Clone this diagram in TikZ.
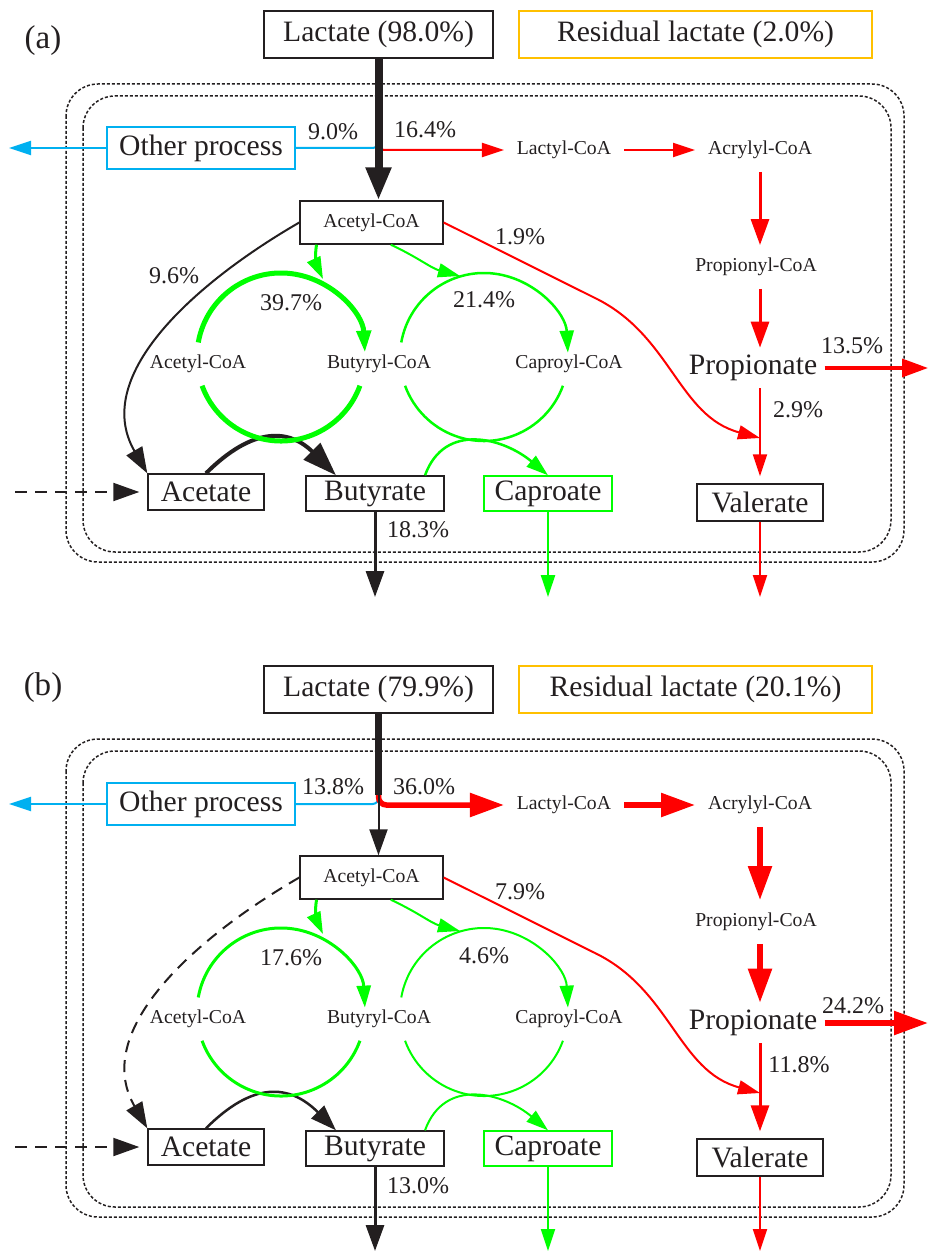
\documentclass[tikz,border=0pt]{standalone}
\usepackage{fontspec}
\setmainfont{Liberation Serif}
\usetikzlibrary{arrows.meta}
\definecolor{ink}{RGB}{35,31,32}
\definecolor{skyline}{RGB}{0,176,240}
\definecolor{amber}{RGB}{255,192,0}
\definecolor{fgreen}{RGB}{0,255,0}
\definecolor{fred}{RGB}{255,0,0}
\begin{document}
\begin{tikzpicture}[x=0.5pt,y=0.5pt,
    pbox/.style={draw=ink,line width=0.7pt,inner sep=0pt,text=ink,font=\fontsize{14.8}{16}\selectfont},
    big/.style={text=ink,inner sep=3.5pt,font=\fontsize{14.8}{16}\selectfont},
    small/.style={text=ink,inner sep=3.5pt,outer sep=3pt,font=\fontsize{9.85}{11}\selectfont},
    pct/.style={text=ink,inner sep=0pt,font=\fontsize{12}{14}\selectfont},
    dotbox/.style={draw=ink,line width=0.75pt,dash pattern=on 1.5pt off 1pt,rounded corners=16pt},
    longdash/.style={dash pattern=on 6pt off 4pt},
    thin1/.style={line width=1pt},
    tipS/.style={-{Triangle[length=11pt,width=7pt]}},
    tipM/.style={-{Triangle[length=13pt,width=9pt]}},
    tipL/.style={-{Triangle[length=17pt,width=11.5pt]}}]
  \useasboundingbox (0,0) rectangle (928,-1251);

  % panel (a)
  \node[text=ink,font=\fontsize{16.5}{18}\selectfont] (labA) at (43,-41) {(a)};
  \node[pbox,minimum width=114.5pt,minimum height=23.5pt] (lacA) at (378.5,-34.5) {Lactate (98.0\%)};
  \node[pbox,draw=amber,minimum width=176.5pt,minimum height=23.5pt] (resA) at (695.5,-34.5) {Residual lactate (2.0\%)};
  \node[pbox,draw=skyline,minimum width=94pt,minimum height=21pt] (othA) at (201,-148) {Other process};
  \node[pbox,font=\fontsize{9.85}{11}\selectfont,minimum width=71.5pt,minimum height=21.5pt] (acoaA) at (371.5,-222.5) {Acetyl-CoA};
  \node[small] (lctA) at (564,-150) {Lactyl-CoA};
  \node[small] (acrA) at (760,-150) {Acrylyl-CoA};
  \node[small] (pcoaA) at (756,-267) {Propionyl-CoA};
  \node[big] (proA) at (753,-368) {Propionate};
  \node[small] (ac2A) at (198,-364) {Acetyl-CoA};
  \node[small] (bcoaA) at (379,-364) {Butyryl-CoA};
  \node[small] (ccoaA) at (569,-364) {Caproyl-CoA};
  \node[pbox,minimum width=58pt,minimum height=18pt] (acetA) at (206,-492) {Acetate};
  \node[pbox,minimum width=69pt,minimum height=17.5pt] (butA) at (375,-493.5) {Butyrate};
  \node[pbox,draw=fgreen,minimum width=64pt,minimum height=17.5pt] (capA) at (548,-493.5) {Caproate};
  \node[pbox,minimum width=63pt,minimum height=18.5pt] (valA) at (760,-502.5) {Valerate};

  \node[pct] (q1A) at (333,-132) {9.0\%};
  \node[pct] (q2A) at (425,-130) {16.4\%};
  \node[pct] (q3A) at (520,-237) {1.9\%};
  \node[pct] (q4A) at (174,-276) {9.6\%};
  \node[pct] (q5A) at (291,-303) {39.7\%};
  \node[pct] (q6A) at (484,-300) {21.4\%};
  \node[pct] (q7A) at (852,-346) {13.5\%};
  \node[pct] (q8A) at (798,-410) {2.9\%};
  \node[pct] (q9A) at (418,-530) {18.3\%};

  \coordinate (jA) at (378.5,-141);
  \coordinate (oLA) at (9,-148);
  \coordinate (mA) at (760,-438);
  \coordinate (pOA) at (928,-368);
  \coordinate (inA) at (15,-492);
  \coordinate (bOA) at (375,-597);
  \coordinate (cOA) at (548,-597);
  \coordinate (vOA) at (760,-597);
  \coordinate (cyc1A) at (281,-357);
  \coordinate (cyc2A) at (484,-357);
  \coordinate (g1A) at (323,-279);
  \coordinate (g2A) at (460,-276);

  \draw[dotbox] (66,-84) rectangle (904,-562);
  \draw[dotbox] (83,-96) rectangle (891,-552);

  \draw[skyline,thin1,rounded corners=3pt] (jA) |- (othA.east);
  \draw[skyline,thin1,tipS] (othA.west) -- (oLA);
  \draw[fred,thin1,rounded corners=3pt,tipS] (jA) |- (lctA.west);
  \draw[ink,line width=4pt,-{Triangle[length=16.5pt,width=12pt]}] (lacA.south) -- (lacA.south |- acoaA.north);
  \draw[fred,thin1,tipS] (lctA) -- (acrA);
  \draw[fred,line width=1.5pt,tipM] (acrA.south) -- (acrA.south |- pcoaA.north);
  \draw[fred,line width=1.5pt,tipM] (pcoaA.south -| acrA.south) -- (acrA.south |- proA.north);
  \draw[fred,line width=1.75pt,tipM] (proA.east) -- (pOA);
  \draw[fred,thin1,tipS,shorten >=3.5pt] (proA.south -| valA.north) -- (valA.north);
  \draw[fred,thin1,tipS] (acoaA.east) -- (595,-298) to[out=-26,in=165] (mA);
  \draw[fred,thin1,tipS] (valA.south) -- (vOA);

  \draw[ink,thin1,tipM] (acoaA.west) to[out=-150,in=120] (acetA.north west);
  \draw[ink,thin1,longdash,tipM,shorten >=4pt] (inA) -- (acetA.west);
  \draw[ink,line width=2pt,tipL] (acetA.north) to[out=45,in=135,looseness=1.3] (butA.155);
  \draw[ink,line width=1.5pt,tipM] (butA.south) -- (bOA);

  \draw[fgreen,line width=1.5pt,tipS] (acoaA.-158) to[out=-100,in=115] (g1A);
  \draw[fgreen,thin1,tipS] (acoaA.-49) to[out=-25,in=165] (g2A);
  \draw[fgreen,line width=2.5pt,tipS] ([shift={(170:84)}]cyc1A) arc[start angle=170,end angle=3,radius=84];
  \draw[fgreen,line width=2.5pt] ([shift={(-20:84)}]cyc1A) arc[start angle=-20,end angle=-160,radius=84];
  \draw[fgreen,line width=1.25pt,tipS] ([shift={(170:84)}]cyc2A) arc[start angle=170,end angle=3,radius=84];
  \draw[fgreen,line width=1.25pt] ([shift={(-20:84)}]cyc2A) arc[start angle=-20,end angle=-160,radius=84];
  \draw[fgreen,line width=1.25pt,tipS] (butA.20) to[out=70,in=140,looseness=1.2] (capA.north);
  \draw[fgreen,line width=1.25pt,tipS] (capA.south) -- (cOA);

  % panel (b)
  \node[text=ink,font=\fontsize{16.5}{18}\selectfont] (labB) at (43,-688) {(b)};
  \node[pbox,minimum width=114.5pt,minimum height=23.5pt] (lacB) at (378.5,-689.5) {Lactate (79.9\%)};
  \node[pbox,draw=amber,minimum width=176.5pt,minimum height=23.5pt] (resB) at (695.5,-689.5) {Residual lactate (20.1\%)};
  \node[pbox,draw=skyline,minimum width=94pt,minimum height=21pt] (othB) at (201,-804) {Other process};
  \node[pbox,font=\fontsize{9.85}{11}\selectfont,minimum width=71.5pt,minimum height=21.5pt] (acoaB) at (371.5,-877.5) {Acetyl-CoA};
  \node[small] (lctB) at (564,-805) {Lactyl-CoA};
  \node[small] (acrB) at (760,-805) {Acrylyl-CoA};
  \node[small] (pcoaB) at (756,-922) {Propionyl-CoA};
  \node[big] (proB) at (753,-1023) {Propionate};
  \node[small] (ac2B) at (198,-1019) {Acetyl-CoA};
  \node[small] (bcoaB) at (379,-1019) {Butyryl-CoA};
  \node[small] (ccoaB) at (569,-1019) {Caproyl-CoA};
  \node[pbox,minimum width=58pt,minimum height=18pt] (acetB) at (206,-1147) {Acetate};
  \node[pbox,minimum width=69pt,minimum height=17.5pt] (butB) at (375,-1148.5) {Butyrate};
  \node[pbox,draw=fgreen,minimum width=64pt,minimum height=17.5pt] (capB) at (548,-1148.5) {Caproate};
  \node[pbox,minimum width=63pt,minimum height=18.5pt] (valB) at (760,-1157.5) {Valerate};

  \node[pct] (q1B) at (333,-787) {13.8\%};
  \node[pct] (q2B) at (424,-787) {36.0\%};
  \node[pct] (q3B) at (520,-892) {7.9\%};
  \node[pct] (q5B) at (291,-958) {17.6\%};
  \node[pct] (q6B) at (484,-956) {4.6\%};
  \node[pct] (q7B) at (853,-1006) {24.2\%};
  \node[pct] (q8B) at (799,-1065) {11.8\%};
  \node[pct] (q9B) at (418,-1186) {13.0\%};

  \coordinate (jB) at (378.5,-795);
  \coordinate (oLB) at (9,-804);
  \coordinate (mB) at (760,-1093);
  \coordinate (pOB) at (928,-1023);
  \coordinate (inB) at (15,-1147);
  \coordinate (bOB) at (375,-1251);
  \coordinate (cOB) at (548,-1251);
  \coordinate (vOB) at (760,-1251);
  \coordinate (cyc1B) at (281,-1012);
  \coordinate (cyc2B) at (484,-1012);
  \coordinate (g1B) at (323,-934);
  \coordinate (g2B) at (460,-931);

  \draw[dotbox] (66,-739) rectangle (904,-1217);
  \draw[dotbox] (83,-751) rectangle (891,-1207);

  \draw[skyline,thin1,rounded corners=3pt] (jB) |- (othB.east);
  \draw[skyline,thin1,tipS] (othB.west) -- (oLB);
  \draw[fred,line width=2.75pt,rounded corners=4pt,tipL] (jB) |- (lctB.west);
  \draw[ink,line width=3.75pt] (lacB.south) -- (jB);
  \draw[ink,thin1,tipM] (jB) -- (jB |- acoaB.north);
  \draw[fred,line width=2.75pt,tipL] (lctB) -- (acrB);
  \draw[fred,line width=2.75pt,tipL] (acrB.south) -- (acrB.south |- pcoaB.north);
  \draw[fred,line width=2.75pt,tipL] (pcoaB.south -| acrB.south) -- (acrB.south |- proB.north);
  \draw[fred,line width=2.75pt,tipL] (proB.east) -- (pOB);
  \draw[fred,line width=1.5pt,tipM,shorten >=3.5pt] (proB.south -| valB.north) -- (valB.north);
  \draw[fred,thin1,tipS] (acoaB.east) -- (595,-953) to[out=-26,in=165] (mB);
  \draw[fred,thin1,tipS] (valB.south) -- (vOB);

  \draw[ink,thin1,longdash,tipM] (acoaB.west) to[out=-150,in=120] (acetB.north west);
  \draw[ink,thin1,longdash,tipM,shorten >=4pt] (inB) -- (acetB.west);
  \draw[ink,line width=1.25pt,tipM] (acetB.north) to[out=45,in=135,looseness=1.3] (butB.155);
  \draw[ink,line width=1.5pt,tipM] (butB.south) -- (bOB);

  \draw[fgreen,line width=1.5pt,tipS] (acoaB.-158) to[out=-100,in=115] (g1B);
  \draw[fgreen,thin1,tipS] (acoaB.-49) to[out=-25,in=165] (g2B);
  \draw[fgreen,line width=1.5pt,tipS] ([shift={(170:84)}]cyc1B) arc[start angle=170,end angle=3,radius=84];
  \draw[fgreen,line width=1.5pt] ([shift={(-20:84)}]cyc1B) arc[start angle=-20,end angle=-160,radius=84];
  \draw[fgreen,thin1,tipS] ([shift={(170:84)}]cyc2B) arc[start angle=170,end angle=3,radius=84];
  \draw[fgreen,thin1] ([shift={(-20:84)}]cyc2B) arc[start angle=-20,end angle=-160,radius=84];
  \draw[fgreen,thin1,tipS] (butB.20) to[out=70,in=140,looseness=1.2] (capB.north);
  \draw[fgreen,thin1,tipS] (capB.south) -- (cOB);
\end{tikzpicture}
\end{document}
